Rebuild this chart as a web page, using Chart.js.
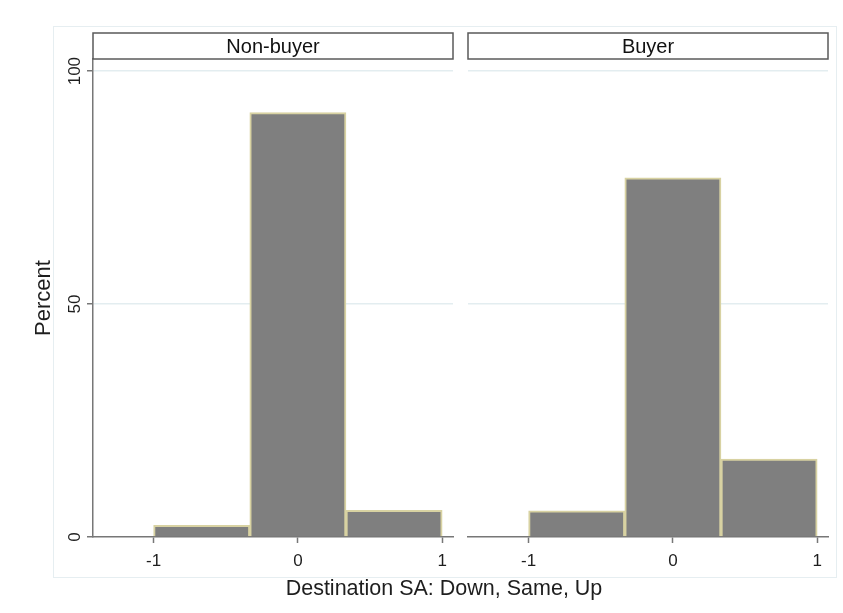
<!DOCTYPE html>
<html>
<head>
<meta charset="utf-8">
<script src="https://cdn.jsdelivr.net/npm/chart.js@4.4.0/dist/chart.umd.min.js"></script>
<style>
  body { margin: 0; background: #fff; }
  #wrap { position: relative; width: 843px; height: 613px; font-family: 'Liberation Sans', Arial, sans-serif; }
  #frame { position: absolute; left: 53px; top: 26px; width: 782px; height: 550px; border: 1px solid #e6eef1; }
  #left-chart { position: absolute; left: 0; top: 0; }
  #right-chart { position: absolute; left: 460px; top: 0; }
  #x-title { position: absolute; left: 0; width: 888px; top: 575px; text-align: center; font-size: 21.5px; line-height: 26px; color: #1e1e1e; }
</style>
</head>
<body>
<div id="wrap">
  <div id="frame"></div>
  <canvas id="left-chart" width="460" height="613"></canvas>
  <canvas id="right-chart" width="383" height="613"></canvas>
  <div id="x-title">Destination SA: Down, Same, Up</div>
</div>
<script>
// bins: down (-1), same (0), up (1), each 2/3 wide
const binCenters = [-2 / 3, 0, 2 / 3];
const xTicks = [-1, 0, 1];
const yTicks = [0, 50, 100];
const panelTitles = ['Non-buyer', 'Buyer'];
const nonBuyerPercent = [2.5, 91.1, 5.7];
const buyerPercent = [5.6, 77.1, 16.7];

Chart.defaults.font.family = "'Liberation Sans', Arial, sans-serif";
Chart.defaults.color = '#1e1e1e';

const AXIS_GRAY = '#777777';

// strip label box above each panel
const panelHeader = {
    id: 'panelHeader',
    afterDraw(chart, args, opts) {
        const { ctx, chartArea } = chart;
        const top = 33, h = 26;
        const w = chartArea.right - chartArea.left;
        ctx.save();
        ctx.strokeStyle = '#5a5a5a';
        ctx.lineWidth = 1.5;
        ctx.strokeRect(chartArea.left, top, w, h);
        ctx.fillStyle = '#111';
        ctx.font = "20px 'Liberation Sans', Arial, sans-serif";
        ctx.textAlign = 'center';
        ctx.textBaseline = 'middle';
        ctx.fillText(opts.text, chartArea.left + w / 2, top + h / 2 + 1);
        ctx.restore();
    }
};

function makePanel(canvasId, title, values, showY, padding) {
    const ctx = document.getElementById(canvasId).getContext('2d');
    return new Chart(ctx, {
        type: 'bar',
        data: {
            datasets: [{
                data: binCenters.map((x, i) => ({ x: x, y: values[i] })),
                backgroundColor: '#7f7f7f',
                borderColor: '#d8d2a2',
                borderWidth: 2,
                barPercentage: 1,
                categoryPercentage: 1
            }]
        },
        options: {
            responsive: false,
            animation: false,
            layout: { padding: padding },
            plugins: {
                legend: { display: false },
                tooltip: { enabled: false },
                panelHeader: { text: title }
            },
            scales: {
                x: {
                    type: 'linear',
                    min: -1.42,
                    max: 1.075,
                    offset: false,
                    afterBuildTicks: s => { s.ticks = xTicks.map(v => ({ value: v })); },
                    afterFit: s => { s.height = 76; },
                    grid: { offset: false, drawOnChartArea: false, tickLength: 6, tickColor: AXIS_GRAY, tickWidth: 1.5 },
                    border: { color: AXIS_GRAY, width: 1.5 },
                    ticks: { font: { size: 17 }, padding: 8, maxRotation: 0 }
                },
                y: {
                    min: 0,
                    max: 102.6,
                    afterBuildTicks: s => { s.ticks = yTicks.map(v => ({ value: v })); },
                    afterFit: s => { s.width = showY ? 93 : 0; },
                    grid: {
                        color: c => (c.tick && c.tick.value === 0) ? 'rgba(0,0,0,0)' : '#e3edf0',
                        lineWidth: 1.5,
                        drawTicks: showY,
                        tickLength: 6,
                        tickColor: AXIS_GRAY,
                        tickWidth: 1.5
                    },
                    border: { display: showY, color: AXIS_GRAY, width: 1.5 },
                    ticks: {
                        display: showY,
                        minRotation: 90,
                        maxRotation: 90,
                        crossAlign: 'center',
                        padding: -2,
                        font: { size: 17 }
                    },
                    title: {
                        display: showY,
                        text: 'Percent',
                        font: { size: 22 },
                        padding: { top: 31, bottom: 0 }
                    }
                }
            }
        },
        plugins: [panelHeader]
    });
}

makePanel('left-chart', panelTitles[0], nonBuyerPercent, true, { top: 59, left: 0, right: 7, bottom: 0 });
makePanel('right-chart', panelTitles[1], buyerPercent, false, { top: 59, left: 8, right: 15, bottom: 0 });
</script>
</body>
</html>
